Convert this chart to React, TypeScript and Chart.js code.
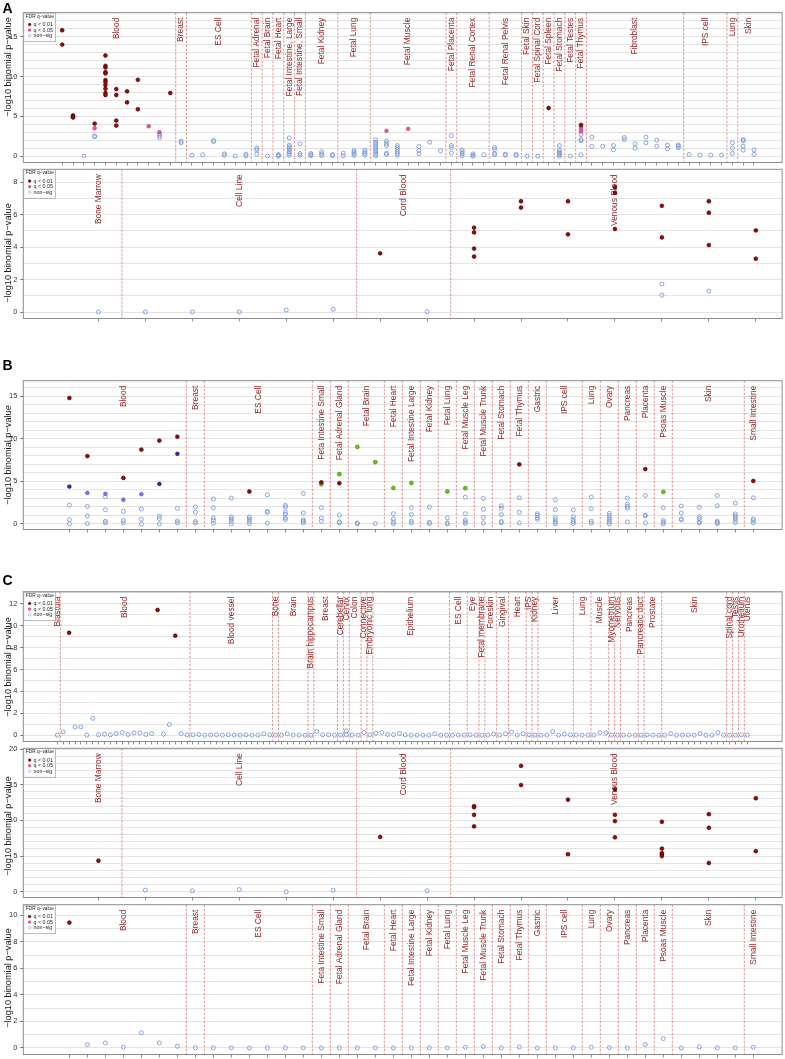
import React, { useEffect, useRef } from "react";
import { Chart, registerables } from "chart.js";

Chart.register(...registerables);

type Col = [number, number[]];

// ---------------- shared text ----------------
const yAxisTitle = "−log10 binomial p−value";
const legendTitle = "FDR q−value";
const legendLabels = ["q < 0.01", "q < 0.05", "non−sig"];

// ---------------- Panel A (top) ----------------
const a1Groups = [
  "Blood", "Breast", "ES Cell", "Fetal Adrenal", "Fetal Brain", "Fetal Heart",
  "Fetal Intestine, Large", "Fetal Intestine, Small", "Fetal Kidney", "Fetal Lung",
  "Fetal Muscle", "Fetal Placenta", "Fetal Renal Cortex", "Fetal Renal Pelvis",
  "Fetal Skin", "Fetal Spinal Cord", "Fetal Spleen", "Fetal Stomach", "Fetal Testes",
  "Fetal Thymus", "Fibroblast", "IPS cell", "Lung", "Skin",
];
const a1Sizes = [11, 1, 6, 1, 1, 1, 1, 1, 3, 3, 7, 1, 3, 3, 1, 1, 1, 1, 1, 1, 9, 4, 1, 2];
const a1YTicks = [0, 5, 10, 15];
const a1Q01: Col[] = [
  [0, [15.8, 14.0]],
  [1, [5.1, 4.95, 4.85]],
  [3, [4.08]],
  [4, [12.63, 11.33, 11.13, 10.54, 10.38, 9.54, 9.29, 8.92, 8.46, 7.92, 7.67]],
  [5, [8.42, 7.67, 4.46, 3.83]],
  [6, [8.13, 6.75]],
  [7, [9.58, 5.88]],
  [10, [7.92]],
  [45, [6.04]],
  [48, [3.92]],
];
const a1Q05: Col[] = [
  [3, [3.5]], [8, [3.75]], [9, [3.0]], [30, [3.17]], [32, [3.42]], [48, [3.71, 3.42, 3.12]],
];
const a1NonSig: number[][] = [
  [], [], [0], [2.54, 2.42], [], [], [], [], [], [2.79, 2.58, 2.33],
  [], [1.88, 1.67], [0.12], [0.17], [1.96, 1.83], [0.29, 0.12], [0], [0.25, 0.04], [1.0, 0.79, 0.25], [0],
  [0.2, 0.08, 0], [2.29, 1.38, 1.17, 0.96, 0.75, 0.54, 0.33, 0.12], [1.54, 0.33, 0.12], [0.33, 0.17, 0.05],
  [0.54, 0.29, 0.08], [0.2, 0.04], [0.38, 0.04], [0.71, 0.5, 0.29, 0.08], [0.75, 0.54, 0.33, 0.12],
  [2.08, 1.75, 1.5, 1.25, 1.0, 0.75, 0.5, 0.25, 0.04], [1.88, 1.58, 1.33, 0.38, 0.21],
  [1.33, 1.08, 0.83, 0.58, 0.33, 0.12], [], [1.21, 0.71, 0.29], [1.75], [0.67], [2.58, 1.33, 1.08, 0.38],
  [0.79, 0.54, 0.29, 0.04], [0.29, 0.12, 0], [0.17], [1.08, 0.83, 0.33, 0.17], [0.25, 0.12], [0.21, 0.08],
  [0], [0], [], [1.33, 0.75, 0.5, 0.33, 0.17, 0], [0], [2.71, 2.08, 1.92, 0.17], [2.38, 1.21], [1.25],
  [1.33, 0.79], [2.33, 2.08], [1.54, 1.0], [2.38, 1.67], [2.0, 1.25], [1.38, 0.92], [1.42, 1.25, 1.04],
  [0.21], [0.12], [0.12], [0.12], [1.67, 1.0, 0.33], [2.08, 1.92, 1.25, 0.75], [0.79, 0.21],
];

// ---------------- Panel A (bottom) ----------------
const a2Groups = ["Bone Marrow", "Cell Line", "Cord Blood", "Venous Blood"];
const a2Sizes = [1, 5, 2, 7];
const a2YTicks = [0, 2, 4, 6, 8];
const a2Q01: Col[] = [
  [6, [3.62]], [8, [5.2, 4.91, 3.91, 3.42]], [9, [6.83, 6.44]], [10, [6.83, 4.79]],
  [11, [7.7, 7.35, 5.12]], [12, [6.55, 4.6]], [13, [6.83, 6.12, 4.13]], [14, [5.03, 3.29]],
];
const a2NonSig: Col[] = [
  [0, [0]], [1, [0]], [2, [0]], [3, [0]], [4, [0.12]], [5, [0.17]], [7, [0.02]],
  [12, [1.72, 1.04]], [13, [1.29]],
];

// ---------------- Panel B ----------------
const bGroups = [
  "Blood", "Breast", "ES Cell", "Feta Intestine Small", "Fetal Adrenal Gland", "Fetal Brain",
  "Fetal Heart", "Fetal Intestine Large", "Fetal Kidney", "Fetal Lung", "Fetal Muscle Leg",
  "Fetal Muscle Trunk", "Fetal Stomach", "Fetal Thymus", "Gastric", "IPS cell", "Lung", "Ovary",
  "Pancreas", "Placenta", "Psoas Muscle", "Skin", "Small Intestine",
];
const bSizes = [7, 1, 6, 1, 1, 2, 1, 1, 1, 1, 1, 1, 1, 1, 1, 2, 1, 1, 1, 1, 1, 4, 1];
const bYTicks = [0, 5, 10, 15];
const bRed: Col[] = [
  [0, [14.77]], [1, [7.95]], [3, [5.39]], [4, [8.72]], [5, [9.77]], [6, [10.23]], [10, [3.8]],
  [14, [4.88]], [15, [4.77]], [25, [6.98]], [32, [6.43]], [38, [5.04]],
];
const bPurple: Col[] = [[0, [4.38]], [5, [4.69]], [6, [8.22]]];
const bBlue: Col[] = [[1, [3.64]], [2, [3.53]], [3, [2.83]], [4, [3.49]]];
const bGreen: Col[] = [
  [14, [4.65]], [15, [5.85]], [16, [9.03]], [17, [7.25]], [18, [4.22]], [19, [4.81]],
  [21, [3.8]], [22, [4.19]], [33, [3.76]],
];
const bNonSig: number[][] = [
  [2.21, 0.5, 0], [2.05, 0.93, 0.04], [3.18, 1.67, 0.31, 0.12], [1.47, 0.39, 0.12], [1.74, 0.54, 0],
  [0.89, 0.62, 0], [1.82, 0.35, 0.12], [1.98, 1.36, 0.27, 0.08], [2.91, 1.9, 0.7, 0.43, 0.08],
  [3.02, 0.81, 0.58, 0.31, 0], [0.81, 0.58, 0.31, 0.04], [3.41, 1.47, 1.36, 0.08],
  [2.17, 1.98, 1.36, 1.12, 0.7, 0.5], [3.57, 1.28, 0.47, 0.31, 0.12], [1.9, 0.7, 0.31],
  [1.05, 0.23, 0.12], [0.12, 0], [0.04], [1.2, 0.58, 0.23, 0.04], [1.9, 1.09, 0.31, 0.12],
  [1.98, 0.19, 0.04], [0.7, 0.12, 0], [3.14, 1.2, 0.43, 0.23, 0.04], [2.98, 1.71, 0.74, 0.12],
  [2.13, 1.86, 1.09, 0.27, 0.12], [3.06, 1.36, 0.12], [1.2, 1.01, 0.74, 0.54],
  [2.83, 1.67, 0.74, 0.47, 0.19, 0], [1.63, 0.85, 0.5, 0.27, 0.04], [3.14, 1.78, 0.31, 0.08],
  [1.24, 0.97, 0.7, 0.47, 0.23, 0], [3.02, 2.29, 2.05, 1.82, 0.23], [3.33, 1.05, 0.93, 0.12],
  [1.9, 0.39, 0.19, 0], [2.09, 1.28, 0.58, 0.47], [1.94, 0.85, 0.62, 0.23, 0.08],
  [3.33, 2.13, 0.31, 0.16, 0.04], [2.44, 1.16, 0.93, 0.7, 0.43, 0.16], [3.06, 0.58, 0.39, 0.12],
];

// ---------------- Panel C (top) ----------------
const c1Groups = [
  "Blastula", "Blood", "Blood vessel", "Bone", "Brain", "Brain hippocampus", "Breast", "Cerebellar",
  "Cervix", "Colon", "Connective", "Embryonic lung", "Epithelium", "ES Cell", "Eye", "Fetal membrane",
  "Foreskin", "Gingival", "Heart", "iPS", "Kidney", "Liver", "Lung", "Muscle", "Myometrium", "Nervous",
  "Pancreas", "Pancreatic duct", "Prostate", "Skin", "Spinal cord", "Testis", "Urothelium", "Uterus",
];
const c1Sizes = [1, 22, 14, 1, 5, 1, 4, 1, 1, 2, 1, 1, 13, 3, 2, 1, 2, 2, 3, 1, 1, 6, 3, 3, 1, 1, 3, 1, 3, 11, 1, 1, 1, 1];
const c1YTicks = [0, 2, 4, 6, 8, 10, 12];
const c1Q01: Col[] = [[2, [9.35]], [17, [11.43]], [20, [9.08]]];
const c1NonSig: number[][] = [
  [0], [0.3], [], [0.75], [0.75], [0], [1.54], [0.03], [0.09], [0.03],
  [0.15], [0.24], [0.06], [0.21], [0.21], [0.06], [0.15], [], [0.09], [0.97],
  [], [0.15], [0.03], [0.03], [0.06], [0], [0], [0.03], [0], [0.03],
  [0], [0], [0.03], [0], [0], [0.12], [0.03], [0], [0], [0.12],
  [0], [0], [0], [0], [0.33], [0.03], [0.03], [0], [0], [0.39, 0.03],
  [0], [0], [0.24], [0.03], [0.18], [0.24], [0.06], [0.04], [0.15], [0.03],
  [0], [0], [0], [0], [0.12], [0], [0], [0], [0], [0],
  [0.03], [0], [0], [0], [0.09], [0], [0.12], [0.27], [0], [0.15],
  [0.03], [0], [0], [0], [0.33], [0], [0.09], [0.03], [0], [0],
  [0], [0], [0.24], [0.21], [0], [0], [0], [0], [0], [0],
  [0.03], [0], [0], [0], [0.15], [0], [0], [0], [0], [0.15],
  [0], [0], [0.24], [0], [0], [0], [0.03], [0],
];

// ---------------- Panel C (middle) ----------------
const c2Groups = ["Bone Marrow", "Cell Line", "Cord Blood", "Venous Blood"];
const c2Sizes = [1, 5, 2, 7];
const c2YTicks = [0, 5, 10, 15, 20];
const c2Q01: Col[] = [
  [0, [4.35]], [6, [7.68]], [8, [12.0, 11.85, 10.78, 9.17]], [9, [17.64, 14.95]], [10, [12.9, 5.27]],
  [11, [14.35, 10.78, 9.9, 7.63]], [12, [9.81, 6.06, 5.41, 5.18, 5.0]], [13, [10.87, 8.97, 4.03]],
  [14, [13.1, 5.69]],
];
const c2NonSig: Col[] = [[1, [0.23]], [2, [0.14]], [3, [0.32]], [4, [0]], [5, [0.23]], [7, [0.14]]];

// ---------------- Panel C (bottom) ----------------
const c3Groups = bGroups.slice();
const c3Sizes = [7, 1, 6, 1, 1, 2, 1, 1, 1, 1, 1, 1, 1, 1, 1, 2, 1, 1, 1, 1, 1, 4, 1];
const c3YTicks = [0, 2, 4, 6, 8, 10];
const c3Q01: Col[] = [[0, [9.45]]];
const c3NonSig: number[][] = [
  [], [0.25], [0.37], [0.05], [1.15], [0.37], [0.12], [0], [0], [0],
  [0], [0], [0], [0], [0], [0], [0], [0], [0], [0],
  [0], [0], [0.05], [0.1], [0], [0.07], [0], [0], [0], [0.05],
  [0.02], [0], [0.25], [0.7], [0], [0.07], [0], [0], [0.05],
];

// ---------------- styles ----------------
const FONT = '"Liberation Sans", Arial, Helvetica, sans-serif';
const LABEL_COLOR = "#8e2626";
const SEP_COLOR = "rgba(196, 80, 80, 0.75)";

interface Style { fill: string; stroke: string; r: number; bw: number }
const S_Q01: Style = { fill: "#930d0d", stroke: "#560303", r: 1.9, bw: 0.7 };
const S_Q05: Style = { fill: "#e0589c", stroke: "#c9448a", r: 1.9, bw: 0.6 };
const S_NON: Style = { fill: "rgba(255,255,255,0)", stroke: "#7b9bd8", r: 2.0, bw: 0.9 };
const S_PURPLE: Style = { fill: "#4b1e9c", stroke: "#32106e", r: 1.9, bw: 0.6 };
const S_BLUE: Style = { fill: "#7676ee", stroke: "#5a5ad0", r: 1.9, bw: 0.6 };
const S_GREEN: Style = { fill: "#66c81c", stroke: "#3d8a08", r: 1.9, bw: 0.7 };

interface Series { cols: Col[]; style: Style }
interface PanelDef {
  boxTop: number; boxBottom: number;
  xMin: number; xMax: number; yMin: number; yMax: number;
  yTicks: number[]; groups: string[]; sizes: number[];
  series: Series[]; legend: boolean; titleY: number;
}

const full = (cols: number[][]): Col[] => cols.map((v, i) => [i, v] as Col);

const panels: PanelDef[] = [
  {
    boxTop: 12.7, boxBottom: 163.3, xMin: -3.6, xMax: 66.6, yMin: -0.8, yMax: 18,
    yTicks: a1YTicks, groups: a1Groups, sizes: a1Sizes, legend: true, titleY: 67,
    series: [
      { cols: a1Q01, style: S_Q01 },
      { cols: a1Q05, style: S_Q05 },
      { cols: full(a1NonSig), style: S_NON },
    ],
  },
  {
    boxTop: 169.3, boxBottom: 319.3, xMin: -1.6, xMax: 14.56, yMin: -0.4, yMax: 8.8,
    yTicks: a2YTicks, groups: a2Groups, sizes: a2Sizes, legend: true, titleY: 253,
    series: [
      { cols: a2Q01, style: S_Q01 },
      { cols: a2NonSig, style: S_NON },
    ],
  },
  {
    boxTop: 380.7, boxBottom: 531, xMin: -2.56, xMax: 39.6, yMin: -0.66, yMax: 16.8,
    yTicks: bYTicks, groups: bGroups, sizes: bSizes, legend: false, titleY: 455,
    series: [
      { cols: bRed, style: S_Q01 },
      { cols: bPurple, style: S_PURPLE },
      { cols: bGreen, style: S_GREEN },
      { cols: bBlue, style: S_BLUE },
      { cols: full(bNonSig), style: S_NON },
    ],
  },
  {
    boxTop: 591.7, boxBottom: 742.7, xMin: -5.77, xMax: 122.9, yMin: -0.58, yMax: 13.1,
    yTicks: c1YTicks, groups: c1Groups, sizes: c1Sizes, legend: true, titleY: 667,
    series: [
      { cols: c1Q01, style: S_Q01 },
      { cols: full(c1NonSig), style: S_NON },
    ],
  },
  {
    boxTop: 748.3, boxBottom: 899, xMin: -1.6, xMax: 14.56, yMin: -0.8, yMax: 20.1,
    yTicks: c2YTicks, groups: c2Groups, sizes: c2Sizes, legend: true, titleY: 826,
    series: [
      { cols: c2Q01, style: S_Q01 },
      { cols: c2NonSig, style: S_NON },
    ],
  },
  {
    boxTop: 904.7, boxBottom: 1056, xMin: -2.56, xMax: 39.6, yMin: -0.5, yMax: 10.8,
    yTicks: c3YTicks, groups: c3Groups, sizes: c3Sizes, legend: true, titleY: 978,
    series: [
      { cols: c3Q01, style: S_Q01 },
      { cols: full(c3NonSig), style: S_NON },
    ],
  },
];

const legendStyles = [S_Q01, S_Q05, S_NON];

function Panel({ def }: { def: PanelDef }) {
  const ref = useRef<HTMLCanvasElement>(null);
  const PAD_T = 14;
  const PAD_B = 6;
  const top = Math.floor(def.boxTop) - PAD_T;
  const padTop = def.boxTop - top;
  const height = Math.ceil(def.boxBottom + PAD_B) - top;
  const padBottom = height - (def.boxBottom - top);

  useEffect(() => {
    const nCols = def.sizes.reduce((a, b) => a + b, 0);
    const colTicks = Array.from({ length: nCols }, (_, i) => i);
    const gridVals: number[] = [];
    for (let v = Math.ceil(def.yMin); v <= Math.floor(def.yMax); v++) gridVals.push(v);

    const datasets = def.series.map((s) => ({
      data: s.cols.flatMap(([c, vals]) => vals.map((v) => ({ x: c, y: v }))),
      pointRadius: s.style.r,
      pointHoverRadius: s.style.r,
      pointBackgroundColor: s.style.fill,
      pointBorderColor: s.style.stroke,
      pointBorderWidth: s.style.bw,
      showLine: false,
    }));

    const deco = {
      id: "deco",
      beforeDatasetsDraw(chart: any) {
        const { ctx, chartArea: a, scales } = chart;
        const x = scales.x;
        ctx.save();
        ctx.strokeStyle = SEP_COLOR;
        ctx.lineWidth = 0.8;
        ctx.setLineDash([2.5, 1.5]);
        let start = 0;
        def.sizes.forEach((n, gi) => {
          const end = start + n;
          if (gi < def.sizes.length - 1) {
            const px = x.getPixelForValue(end - 0.5);
            ctx.beginPath();
            ctx.moveTo(px, a.top);
            ctx.lineTo(px, a.bottom);
            ctx.stroke();
          }
          start = end;
        });
        ctx.setLineDash([]);
        ctx.fillStyle = LABEL_COLOR;
        ctx.font = `8.4px ${FONT}`;
        ctx.textAlign = "right";
        ctx.textBaseline = "middle";
        start = 0;
        def.groups.forEach((g, gi) => {
          const n = def.sizes[gi];
          const cx = x.getPixelForValue(start + (n - 1) / 2);
          ctx.save();
          ctx.translate(cx, a.top + 5);
          ctx.rotate(-Math.PI / 2);
          ctx.fillText(g, 0, 0);
          ctx.restore();
          start += n;
        });
        ctx.restore();
      },
      afterDraw(chart: any) {
        const { ctx, chartArea: a } = chart;
        ctx.save();
        ctx.strokeStyle = "#8c8c8c";
        ctx.lineWidth = 1;
        ctx.strokeRect(a.left, a.top, a.right - a.left, a.bottom - a.top);
        if (def.legend) {
          const lx = a.left + 0.5;
          const ly = a.top + 0.5;
          const w = 31.5;
          const h = 28.5;
          ctx.fillStyle = "#ffffff";
          ctx.fillRect(lx, ly, w, h);
          ctx.strokeStyle = "#9a9a9a";
          ctx.lineWidth = 0.7;
          ctx.strokeRect(lx, ly, w, h);
          ctx.fillStyle = "#222";
          ctx.font = `4.8px ${FONT}`;
          ctx.textAlign = "left";
          ctx.textBaseline = "middle";
          ctx.fillText(legendTitle, lx + 2, ly + 3.3);
          ctx.font = `5.3px ${FONT}`;
          legendLabels.forEach((lab, i) => {
            const st = legendStyles[i];
            const yy = ly + 11.3 + i * 5.6;
            ctx.beginPath();
            ctx.arc(lx + 5.8, yy, 1.3, 0, Math.PI * 2);
            ctx.fillStyle = st.fill;
            ctx.fill();
            ctx.strokeStyle = st.stroke;
            ctx.lineWidth = 0.6;
            ctx.stroke();
            ctx.fillStyle = "#222";
            ctx.fillText(lab, lx + 9.8, yy);
          });
        }
        ctx.fillStyle = "#1a1a1a";
        ctx.font = `9.2px ${FONT}`;
        ctx.textAlign = "center";
        ctx.textBaseline = "middle";
        ctx.translate(8.5, def.titleY - top);
        ctx.rotate(-Math.PI / 2);
        ctx.fillText(yAxisTitle, 0, 0);
        ctx.restore();
      },
    };

    const chart = new Chart(ref.current as HTMLCanvasElement, {
      type: "scatter",
      data: { datasets } as any,
      options: {
        animation: false,
        responsive: false,
        events: [],
        layout: { padding: { top: padTop, right: 785 - 782.7, left: 0, bottom: 0 } },
        plugins: { legend: { display: false }, tooltip: { enabled: false } },
        scales: {
          x: {
            type: "linear",
            position: "bottom",
            min: def.xMin,
            max: def.xMax,
            afterBuildTicks: (s: any) => {
              s.ticks = colTicks.map((v) => ({ value: v }));
            },
            afterFit: (s: any) => {
              s.height = padBottom;
            },
            grid: { drawOnChartArea: false, drawTicks: true, tickLength: 3, color: "#707070", tickColor: "#707070", lineWidth: 0.8 },
            border: { display: false },
            ticks: { display: false, autoSkip: false },
          },
          y: {
            type: "linear",
            position: "left",
            min: def.yMin,
            max: def.yMax,
            afterBuildTicks: (s: any) => {
              s.ticks = gridVals.map((v) => ({ value: v }));
            },
            afterFit: (s: any) => {
              s.width = 23.3;
            },
            grid: {
              color: "#e3e3e3",
              lineWidth: 1,
              drawTicks: true,
              tickLength: 3,
              tickColor: (c: any) => (def.yTicks.includes(c.tick?.value) ? "#707070" : "rgba(0,0,0,0)"),
            },
            border: { display: false },
            ticks: {
              autoSkip: false,
              padding: 3,
              color: "#333",
              font: { size: 7.5, family: FONT },
              callback: (v: any) => (def.yTicks.includes(Number(v)) ? String(v) : ""),
            },
          },
        },
      } as any,
      plugins: [deco],
    });
    return () => chart.destroy();
  }, []);

  return (
    <canvas
      ref={ref}
      width={785}
      height={height}
      style={{ position: "absolute", left: 0, top, width: 785, height }}
    />
  );
}

const letterStyle = (top: number): React.CSSProperties => ({
  position: "absolute",
  left: 2.5,
  top,
  fontFamily: FONT,
  fontWeight: "bold",
  fontSize: 14,
  lineHeight: "14px",
  color: "#000",
  zIndex: 2,
});

export default function App() {
  return (
    <div style={{ position: "absolute", left: 0, top: 0, width: 785, height: 1059, background: "#fff", overflow: "hidden" }}>
      {panels.map((p, i) => (
        <Panel key={i} def={p} />
      ))}
      <div style={letterStyle(0.8)}>A</div>
      <div style={letterStyle(358.2)}>B</div>
      <div style={letterStyle(572.8)}>C</div>
    </div>
  );
}
